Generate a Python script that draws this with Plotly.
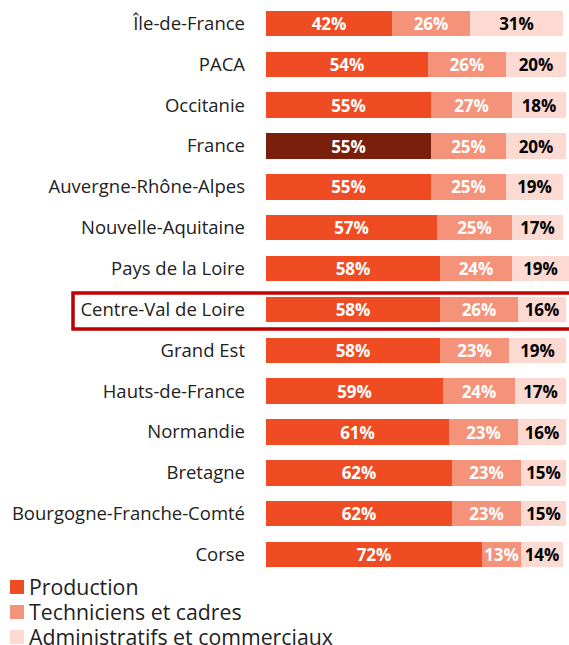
import plotly.graph_objects as go

regions = ["Île-de-France", "PACA", "Occitanie", "France", "Auvergne-Rhône-Alpes",
           "Nouvelle-Aquitaine", "Pays de la Loire", "Centre-Val de Loire", "Grand Est",
           "Hauts-de-France", "Normandie", "Bretagne", "Bourgogne-Franche-Comté", "Corse"]
production = [42, 54, 55, 55, 55, 57, 58, 58, 58, 59, 61, 62, 62, 72]
techniciens = [26, 26, 27, 25, 25, 25, 24, 26, 23, 24, 23, 23, 23, 13]
administratifs = [31, 20, 18, 20, 19, 17, 19, 16, 19, 17, 16, 15, 15, 14]
series_names = ["Production", "Techniciens et cadres", "Administratifs et commerciaux"]

c_prod = "#EF4C23"
c_france = "#7A1F0B"
c_tech = "#F4927A"
c_admin = "#FCDAD2"
series_colors = [c_prod, c_tech, c_admin]

W, H = 569, 645
ML, MR, MT, MB = 266, 0, 3, 70
plot_w = W - ML - MR
plot_h = H - MT - MB


def px_x(px):
    return (px - ML) / plot_w


def px_y(py):
    return (H - MB - py) / plot_h


prod_colors = [c_france if r == "France" else c_prod for r in regions]

fig = go.Figure()
common = dict(orientation="h", textposition="inside", insidetextanchor="middle",
              textangle=0, cliponaxis=False, width=0.62, constraintext="none",
              marker_line_width=0, showlegend=False, hoverinfo="skip")
lab_font = dict(size=17, family="Open Sans", weight="bold")
fig.add_trace(go.Bar(y=regions, x=production, name=series_names[0],
                     marker_color=prod_colors,
                     text=[f"{v}%" for v in production],
                     textfont=dict(color="white", **lab_font), **common))
fig.add_trace(go.Bar(y=regions, x=techniciens, name=series_names[1],
                     marker_color=c_tech,
                     text=[f"{v}%" for v in techniciens],
                     textfont=dict(color="white", **lab_font), **common))
fig.add_trace(go.Bar(y=regions, x=administratifs, name=series_names[2],
                     marker_color=c_admin,
                     text=[f"{v}%" for v in administratifs],
                     textfont=dict(color="black", **lab_font), **common))

# highlight box around Centre-Val de Loire
idx = regions.index("Centre-Val de Loire")
fig.add_shape(type="rect", xref="paper", yref="paper",
              x0=px_x(73), x1=px_x(572), y0=px_y(329), y1=px_y(293),
              line=dict(color="#C00000", width=3.5), fillcolor="rgba(0,0,0,0)")

# legend (drawn as swatches + labels)
leg_centers = [587, 612, 637]
for name, col, cy in zip(series_names, series_colors, leg_centers):
    fig.add_shape(type="rect", xref="paper", yref="paper",
                  x0=px_x(10), x1=px_x(24), y0=px_y(cy + 7), y1=px_y(cy - 7),
                  line_width=0, fillcolor=col)
    fig.add_annotation(xref="paper", yref="paper", x=px_x(27), y=px_y(cy - 1),
                       xanchor="left", yanchor="middle", showarrow=False,
                       text=name, font=dict(size=21.3, color="#222222", family="Open Sans"))

fig.update_layout(
    width=W, height=H,
    barmode="stack",
    plot_bgcolor="white", paper_bgcolor="white",
    margin=dict(l=ML, r=MR, t=MT, b=MB),
    font=dict(family="Open Sans", size=18.5, color="#222222"),
    xaxis=dict(range=[0, 101], visible=False, fixedrange=True),
    yaxis=dict(autorange="reversed", showgrid=False, zeroline=False, showline=False,
               ticks="", ticklabelstandoff=20, fixedrange=True,
               tickfont=dict(size=18.5, color="#222222")),
    showlegend=False,
)

fig.write_html("out.html", config={"displayModeBar": False},
               post_script="document.body.style.margin='0';")
